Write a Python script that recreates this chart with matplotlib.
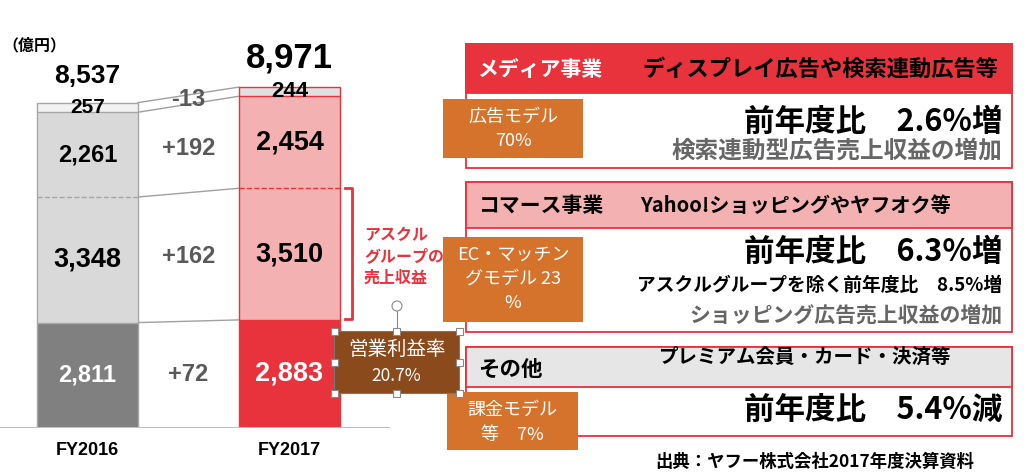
import matplotlib
matplotlib.use('Agg')
import matplotlib.pyplot as plt
from matplotlib.patches import Rectangle, Circle
import numpy as np

plt.rcParams['font.family'] = ['Noto Sans CJK JP', 'DejaVu Sans']

# data (億円)
years = ['FY2016', 'FY2017']
media = [2811, 2883]
askul = [3348, 3510]
commerce = [2261, 2454]
other = [257, 244]
totals = ['8,537', '8,971']
diffs = ['+72', '+162', '+192', '-13']

NUM = ['Liberation Sans', 'DejaVu Sans']

fig = plt.figure(figsize=(10.24, 4.76), dpi=100)

# ---- stacked bars ----
ax = fig.add_axes([0, 48 / 476, 390 / 1024, 428 / 476])
ax.set_xlim(-0.433, 1.4975)
ax.set_ylim(0, 428 / 0.0375)
ax.axis('off')

x = np.arange(len(years))
w = 0.5
seg_cols = [['#808080', '#d9d9d9', '#d9d9d9', '#f2f2f2'],
            ['#e8323c', '#f4b1b1', '#f4b1b1', '#e0e0e0']]
edge_cols = ['#a6a6a6', '#e8323c']
segs = [media, askul, commerce, other]
cum = np.zeros(len(years))
levels = []
for k, s in enumerate(segs):
    s = np.array(s, dtype=float)
    for i in range(len(years)):
        ax.bar(x[i], s[i], w, bottom=cum[i], color=seg_cols[i][k], linewidth=0, zorder=2)
    cum = cum + s
    levels.append(cum.copy())

bottoms = [np.zeros(2)] + levels[:-1]
for i in range(len(years)):
    ax.bar(x[i], levels[-1][i], w, fill=False, edgecolor=edge_cols[i], linewidth=1, zorder=3)
    for k, lv in enumerate(levels[:-1]):
        ls = '--' if k == 1 else '-'
        ax.hlines(lv[i], x[i] - w / 2, x[i] + w / 2, colors=edge_cols[i], linestyles=ls,
                  linewidth=1, zorder=3)

# connectors between bars
for lv in levels:
    ax.plot([x[0] + w / 2, x[1] - w / 2], [lv[0], lv[1]], color='#a0a0a0', lw=1, zorder=1)

ax.axhline(0, color='#bfbfbf', lw=2.2, zorder=4)

# segment labels
lab_size = [[17, 19.5, 17, 15], [19.5, 19.5, 19.5, 16]]
for i in range(len(years)):
    for k, s in enumerate(segs):
        yc = bottoms[k][i] + s[i] / 2
        col = 'white' if k == 0 else 'black'
        ax.text(x[i], yc, f'{s[i]:,}', ha='center', va='center', fontsize=lab_size[i][k],
                fontweight='bold', color=col, family=NUM, zorder=5)
    ax.annotate(totals[i], (x[i], levels[-1][i]), xytext=(0, [19, 21][i]), textcoords='offset points',
                ha='center', va='center', fontsize=[19, 25][i], fontweight='bold', family=NUM)
    ax.annotate(years[i], (x[i], 0), xytext=(0, -16), textcoords='offset points',
                ha='center', va='center', fontsize=13, fontweight='bold', family=NUM)

for k, d in enumerate(diffs):
    yc = ((bottoms[k] + np.array(segs[k]) / 2)).mean()
    ax.text(0.5, yc, d, ha='center', va='center', fontsize=17, fontweight='bold',
            color='#595959', family=NUM, zorder=5)

# ---- overlay in pixel coordinates ----
ov = fig.add_axes([0, 0, 1, 1])
ov.set_xlim(0, 1024)
ov.set_ylim(476, 0)
ov.axis('off')
ov.patch.set_alpha(0)

RED = '#e8323c'
ORANGE = '#d5722c'

ov.text(2, 45, '（億円）', fontsize=11.5, fontweight='bold', va='center', ha='left')

# red bracket for Askul
ov.plot([345, 352, 352, 345], [188, 188, 319, 319], color=RED, lw=2)
for j, t in enumerate(['アスクル', 'グループの', '売上収益']):
    ov.text(364, 235 + 21.5 * j, t, color=RED, fontsize=11.5, fontweight='bold',
            ha='left', va='center')


def box(x0, y0, x1, y1, fc, ec=None, lw=0, z=2):
    ov.add_patch(Rectangle((x0, y0), x1 - x0, y1 - y0, facecolor=fc,
                           edgecolor=ec if ec else fc, linewidth=lw, zorder=z))


# panel 1
box(466, 44, 1012, 168, 'white', RED, 1.3)
box(466, 44, 1012, 93, RED, RED, 1.3)
ov.text(478, 69, 'メディア事業', color='white', fontsize=15, fontweight='bold', va='center', zorder=5)
ov.text(642, 69, 'ディスプレイ広告や検索連動広告等', fontsize=16, fontweight='bold', va='center', zorder=5)
ov.text(1002, 122, '前年度比　2.6%増', fontsize=22, fontweight='bold', ha='right', va='center', zorder=5)
ov.text(1002, 151, '検索連動型広告売上収益の増加', fontsize=17, fontweight='bold', color='#666666',
        ha='right', va='center', zorder=5)

# panel 2
box(466, 182, 1012, 332, 'white', RED, 1.3)
box(466, 182, 1012, 228, '#f4b1b1', RED, 1.3)
ov.text(478, 206, 'コマース事業', fontsize=15, fontweight='bold', va='center', zorder=5)
ov.text(640, 206, 'Yahoo!ショッピングやヤフオク等', fontsize=14.5, fontweight='bold', va='center', zorder=5)
ov.text(1002, 252, '前年度比　6.3%増', fontsize=22, fontweight='bold', ha='right', va='center', zorder=5)
ov.text(1002, 285, 'アスクルグループを除く前年度比　8.5%増', fontsize=13.5, fontweight='bold',
        ha='right', va='center', zorder=5)
ov.text(1002, 316, 'ショッピング広告売上収益の増加', fontsize=15, fontweight='bold', color='#666666',
        ha='right', va='center', zorder=5)

# panel 3
box(466, 347, 1012, 436, 'white', RED, 1.3)
box(466, 347, 1012, 387, '#e6e6e6', RED, 1.3)
ov.text(478, 369, 'その他', fontsize=15.5, fontweight='bold', va='center', zorder=5)
ov.text(805, 357, 'プレミアム会員・カード・決済等', fontsize=14, fontweight='bold', ha='center',
        va='center', zorder=5)
ov.text(1002, 410, '前年度比　5.4%減', fontsize=22, fontweight='bold', ha='right', va='center', zorder=5)

# orange model boxes
oboxes = [((443, 99, 583, 158), ['広告モデル', '70%'], [117, 141]),
          ((443, 237, 583, 322), ['EC・マッチン', 'グモデル 23', '%'], [255, 279, 303]),
          ((447, 392, 578, 450), ['課金モデル', '等　7%'], [410, 435])]
for (x0, y0, x1, y1), lines, ys in oboxes:
    box(x0, y0, x1, y1, ORANGE, z=6)
    for t, yy in zip(lines, ys):
        ov.text((x0 + x1) / 2, yy, t, color='white', fontsize=13, ha='center', va='center', zorder=7)

# operating margin box with selection handles
box(334, 331, 459, 393, '#8b4a1c', '#777777', 0.8, z=8)
ov.text(396.5, 349, '営業利益率', color='white', fontsize=14, ha='center', va='center', zorder=9)
ov.text(396.5, 376, '20.7%', color='white', fontsize=12.5, ha='center', va='center', zorder=9)
ov.plot([397, 397], [311, 331], color='#888888', lw=0.8, zorder=9)
ov.add_patch(Circle((397, 306), 5, facecolor='white', edgecolor='#888888', lw=0.8, zorder=10))
for hx in (334, 396.5, 459):
    for hy in (331, 362, 393):
        if hx == 396.5 and hy == 362:
            continue
        ov.add_patch(Rectangle((hx - 3.5, hy - 3.5), 7, 7, facecolor='white', edgecolor='#888888',
                               lw=0.8, zorder=10))

ov.text(815, 462, '出典：ヤフー株式会社2017年度決算資料', fontsize=12.5, fontweight='bold',
        ha='center', va='center')

fig.savefig('out.png', dpi=100)
